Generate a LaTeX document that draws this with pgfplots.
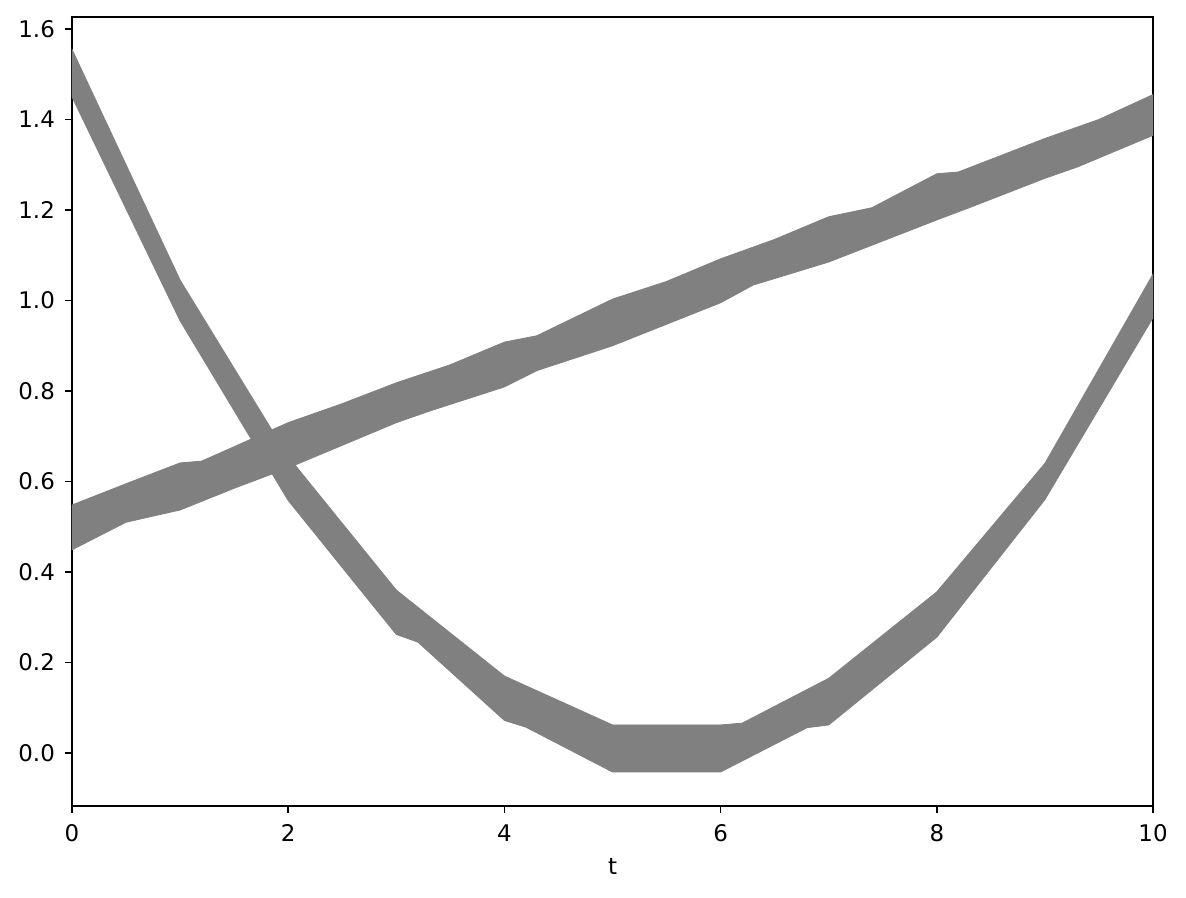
\documentclass[border=0pt]{standalone}
\usepackage{fontspec}
\setmainfont{DejaVu Sans}
\usepackage{pgfplots}
\pgfplotsset{compat=1.18}
\definecolor{mplgray}{RGB}{128,128,128}
\begin{document}
\begin{tikzpicture}
\begin{axis}[name=ax, scale only axis, width=518.9pt, height=378.7pt,
  xmin=0, xmax=10, ymin=-0.117, ymax=1.6265,
  xtick={0,2,4,6,8,10},
  ytick={0,0.2,0.4,0.6,0.8,1.0,1.2,1.4,1.6},
  yticklabel style={xshift=-1.2pt, /pgf/number format/fixed, /pgf/number format/fixed zerofill, /pgf/number format/precision=1},
  /pgf/number format/assume math mode=true,
  tick align=outside, tick pos=left, major tick length=3.5pt,
  axis line style={line width=0.8pt},
  every tick/.style={black, line width=0.8pt},
  tick label style={font=\fontsize{11}{13}\selectfont},
  xticklabel style={yshift=-1.8pt},
  label style={font=\fontsize{11}{13}\selectfont},
  xlabel={t},
  xlabel style={yshift=-1pt},
]
% band of the quadratic curves (upper edge, then lower edge)
\addplot[fill=mplgray, draw=mplgray, line width=0.4pt] coordinates {
 (0,1.555) (1,1.045) (2,0.655) (3,0.360) (4,0.170) (5,0.062) (6,0.062) (6.2,0.066) (7,0.165) (8,0.356) (9,0.640) (10,1.058)
 (10,0.962) (9,0.560) (8,0.256) (7,0.062) (6.8,0.056) (6,-0.042) (5,-0.042) (4.2,0.057) (4,0.072) (3.2,0.245) (3,0.262) (2,0.558) (1,0.955) (0,1.450)
} -- cycle;
% band of the linear curves
\addplot[fill=mplgray, draw=mplgray, line width=0.4pt] coordinates {
 (0,0.548) (0.5,0.595) (1,0.641) (1.2,0.645) (2,0.730) (2.5,0.772) (3,0.818) (3.5,0.858) (4,0.908) (4.3,0.922) (5,1.003) (5.5,1.042) (6,1.092) (6.5,1.135) (7,1.185) (7.4,1.205) (8,1.280) (8.2,1.284) (9,1.358) (9.5,1.400) (10,1.455)
 (10,1.365) (9.3,1.295) (9,1.270) (8.3,1.205) (8,1.178) (7,1.085) (6.3,1.034) (6,0.995) (5,0.900) (4.3,0.845) (4,0.809) (3.3,0.755) (3,0.730) (2,0.630) (1.5,0.585) (1,0.537) (0.5,0.510) (0,0.449)
} -- cycle;
\end{axis}
\path ([shift={(-34.56pt,-44.16pt)}]ax.south west) rectangle ([shift={(15.84pt,8.16pt)}]ax.north east);
\end{tikzpicture}
\end{document}
